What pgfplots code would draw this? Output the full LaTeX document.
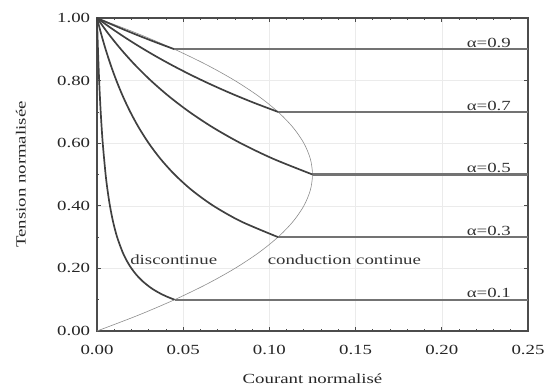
\documentclass[border=0pt]{standalone}
\usepackage{fontspec}
\setmainfont{Liberation Serif}[FakeStretch=1.35]
\usepackage{pgfplots}
\pgfplotsset{compat=1.18}
\begin{document}
\fontsize{14}{16}\selectfont
\begin{tikzpicture}
\begin{axis}[
  at={(0,0)}, anchor=south west,
  scale only axis, width=431bp, height=313bp,
  xmin=0, xmax=0.25, ymin=0, ymax=1,
  xtick={0,0.05,...,0.25}, ytick={0,0.2,...,1.0},
  minor x tick num=4, minor y tick num=1,
  tick align=inside, ticks=both,
  xtick pos=both, ytick pos=both,
  major tick length=4pt, minor tick length=2.5pt,
  tick style={black!70, line width=0.8pt},
  grid=major, major grid style={black!8, line width=0.6pt},
  axis line style={black!70, line width=1.6pt},
  /pgf/number format/assume math mode=true,
  /pgf/number format/.cd, fixed, fixed zerofill, precision=2, /pgfplots/.cd,
  scaled ticks=false,
  xticklabel style={font=\fontsize{14}{16}\selectfont, yshift=-9pt, black!85},
  yticklabel style={font=\fontsize{14}{16}\selectfont, xshift=-2pt, black!85},
  xlabel={Courant normalisé}, ylabel={Tension normalisée},
  label style={font=\fontsize{14}{16}\selectfont, black!85},
  xlabel style={yshift=-10pt},
  ylabel style={yshift=22pt},
  clip=false,
]
% boundary
\addplot[black!45, line width=0.6pt, smooth] coordinates {
(0,0) (0.02375,0.05) (0.045,0.1) (0.06375,0.15) (0.08,0.2) (0.09375,0.25)
(0.105,0.3) (0.11375,0.35) (0.12,0.4) (0.12375,0.45) (0.125,0.5)
(0.12375,0.55) (0.12,0.6) (0.11375,0.65) (0.105,0.7) (0.09375,0.75)
(0.08,0.8) (0.06375,0.85) (0.045,0.9) (0.02375,0.95) (0,1)};
% discontinuous curves
\addplot[black!75, line width=1.7pt, smooth] coordinates {
(0,1) (0.000556,0.9) (0.00125,0.8) (0.002143,0.7) (0.003333,0.6) (0.005,0.5)
(0.006111,0.45) (0.0075,0.4) (0.009286,0.35) (0.011667,0.3) (0.015,0.25)
(0.017727,0.22) (0.02,0.2) (0.022778,0.18) (0.02625,0.16) (0.030714,0.14)
(0.033462,0.13) (0.036667,0.12) (0.040455,0.11) (0.045,0.1)};
\addplot[black!75, line width=1.7pt, smooth] coordinates {
(0,1) (0.002368,0.95) (0.005,0.9) (0.007941,0.85) (0.01125,0.8) (0.015,0.75)
(0.019286,0.7) (0.024231,0.65) (0.03,0.6) (0.036818,0.55) (0.045,0.5)
(0.055,0.45) (0.0675,0.4) (0.083571,0.35) (0.105,0.3)};
\addplot[black!75, line width=1.7pt, smooth] coordinates {
(0,1) (0.006579,0.95) (0.013889,0.9) (0.022059,0.85) (0.03125,0.8)
(0.041667,0.75) (0.053571,0.7) (0.067308,0.65) (0.083333,0.6)
(0.102273,0.55) (0.125,0.5)};
\addplot[black!75, line width=1.7pt, smooth] coordinates {
(0,1) (0.007577,0.97) (0.015638,0.94) (0.024231,0.91) (0.033409,0.88)
(0.043235,0.85) (0.05378,0.82) (0.065127,0.79) (0.077368,0.76)
(0.090616,0.73) (0.105,0.7)};
\addplot[black!75, line width=1.7pt, smooth] coordinates {
(0,1) (0.008265,0.98) (0.016875,0.96) (0.025851,0.94) (0.035217,0.92) (0.045,0.9)};
% continuous conduction
\addplot[black!55, line width=2.3pt] coordinates {(0.045,0.1) (0.25,0.1)};
\addplot[black!55, line width=2.3pt] coordinates {(0.105,0.3) (0.25,0.3)};
\addplot[black!55, line width=2.3pt] coordinates {(0.125,0.5) (0.25,0.5)};
\addplot[black!55, line width=2.3pt] coordinates {(0.105,0.7) (0.25,0.7)};
\addplot[black!55, line width=2.3pt] coordinates {(0.045,0.9) (0.25,0.9)};
\node[anchor=south east, inner sep=1.5pt, black!80] at (axis cs:0.241,0.9) {α=0.9};
\node[anchor=south east, inner sep=1.5pt, black!80] at (axis cs:0.241,0.7) {α=0.7};
\node[anchor=south east, inner sep=1.5pt, black!80] at (axis cs:0.241,0.5) {α=0.5};
\node[anchor=south east, inner sep=1.5pt, black!80] at (axis cs:0.241,0.3) {α=0.3};
\node[anchor=south east, inner sep=1.5pt, black!80] at (axis cs:0.241,0.1) {α=0.1};
\node[black!80] at (axis cs:0.0445,0.227) {discontinue};
\node[black!80] at (axis cs:0.1435,0.227) {conduction continue};
\end{axis}
\pgfresetboundingbox
\path (-97bp,-56bp) rectangle (447bp,331bp);
\end{tikzpicture}
\end{document}
